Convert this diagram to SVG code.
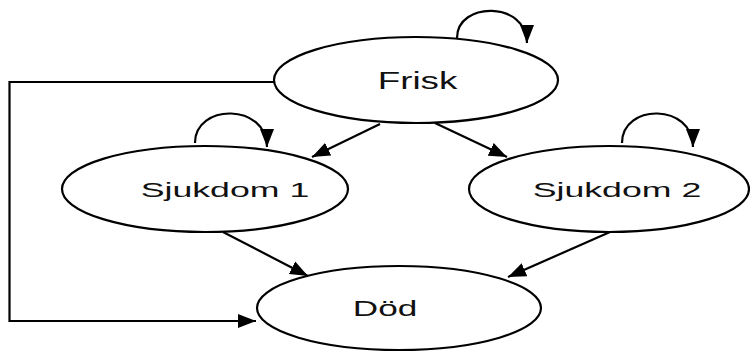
<svg xmlns="http://www.w3.org/2000/svg" width="750" height="354" viewBox="0 0 750 354">
<style>
.node{fill:#fff;stroke:#000;stroke-width:2.2}
.lbl{font-family:"Liberation Sans",Arial,sans-serif;fill:#111;text-anchor:middle}
.edge{fill:none;stroke:#000;stroke-width:2.2}
</style>
<defs>
<marker id="ah" markerUnits="userSpaceOnUse" markerWidth="19" markerHeight="15" refX="18" refY="7" orient="auto" viewBox="0 0 19 14">
<path d="M0,0 L18,7 L0,14 z" fill="#000"/>
</marker>
</defs>
<rect width="750" height="354" fill="#fff"/>
<g id="frisk">
<ellipse class="node" cx="416" cy="80" rx="142" ry="43"/>
<text class="lbl" transform="translate(417.5,89) scale(1.6,1)" font-size="23">Frisk</text>
</g>
<g id="sjukdom1">
<ellipse class="node" cx="205" cy="189" rx="143" ry="43"/>
<text class="lbl" transform="translate(225,197) scale(1.7,1)" font-size="21">Sjukdom 1</text>
</g>
<g id="sjukdom2">
<ellipse class="node" cx="609" cy="189" rx="140" ry="43"/>
<text class="lbl" transform="translate(617,197) scale(1.7,1)" font-size="21">Sjukdom 2</text>
</g>
<g id="dod">
<ellipse class="node" cx="399" cy="308" rx="142" ry="42"/>
<text class="lbl" transform="translate(385,316) scale(1.6,1)" font-size="22">Död</text>
</g>
<g id="connectors">
<path class="edge" d="M457,38 C457,1 527,1 527,43" marker-end="url(#ah)"/>
<path class="edge" d="M195,143 C195,103 267,103 267,147" marker-end="url(#ah)"/>
<path class="edge" d="M622,143 C622,103 693,103 693,147" marker-end="url(#ah)"/>
<path class="edge" d="M380,124 L312,157" marker-end="url(#ah)"/>
<path class="edge" d="M435,123 L507,157" marker-end="url(#ah)"/>
<path class="edge" d="M223,232 L308,276" marker-end="url(#ah)"/>
<path class="edge" d="M610,232 L508,277" marker-end="url(#ah)"/>
<path class="edge" d="M275,82 L9.5,82 L9.5,321 L256,321" stroke-width="2.6" marker-end="url(#ah)"/>
</g>
</svg>
